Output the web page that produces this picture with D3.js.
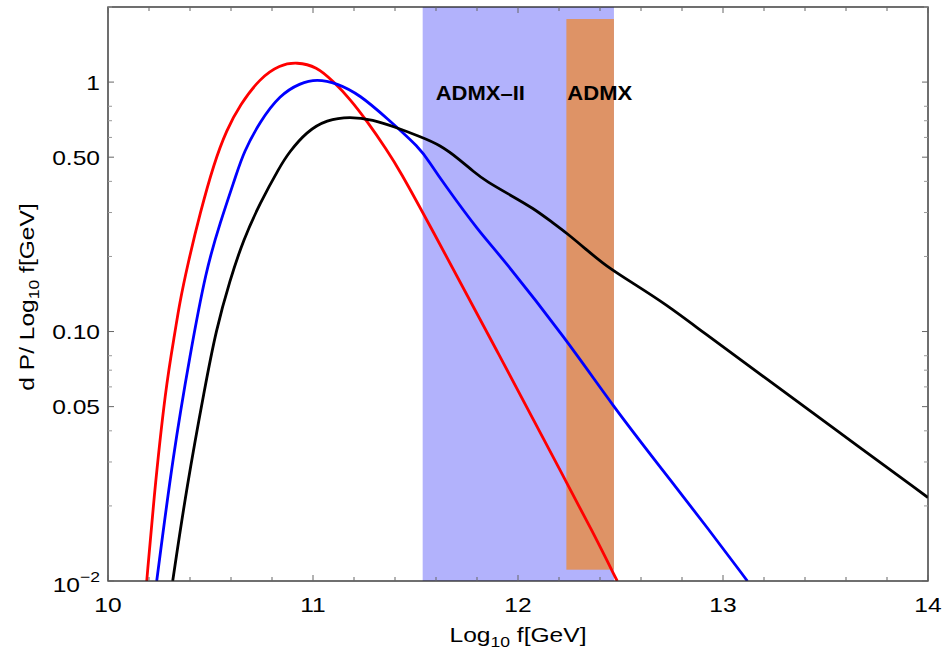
<!DOCTYPE html>
<html><head><meta charset="utf-8">
<script src="https://cdn.jsdelivr.net/npm/d3@7"></script>
<style>
body{margin:0;background:#fff;}
text{font-family:"Liberation Sans",Arial,sans-serif;fill:#000;}
</style></head>
<body><svg id="c" width="943" height="657"></svg>
<script>
// ---- data ----
const redX = [10.189,10.221,10.281,10.329,10.346,10.390,10.449,10.517,10.579,10.644,10.741,10.839,10.920,11.018,11.099,11.180,11.262,11.360,11.424,11.555,11.896,12.238,12.360,12.484];
const redY = [0.01,0.0205,0.0601,0.1015,0.126,0.188,0.298,0.473,0.644,0.811,1.037,1.173,1.203,1.155,1.006,0.857,0.700,0.535,0.441,0.281,0.0843,0.0247,0.0160,0.01];
const blueX = [10.2376,10.3185,10.400,10.478,10.546,10.628,10.660,10.741,10.839,10.937,11.018,11.116,11.229,11.360,11.522,11.571,11.636,11.815,11.912,12.238,12.465,12.693,12.933,13.119];
const blueY = [0.01,0.0325,0.0806,0.1767,0.272,0.431,0.519,0.695,0.889,0.991,1.028,0.991,0.889,0.717,0.544,0.473,0.394,0.248,0.203,0.0925,0.050,0.0287,0.0160,0.01];
const blackX = [10.3156,10.384,10.473,10.527,10.595,10.660,10.741,10.839,10.880,10.969,11.067,11.180,11.294,11.392,11.522,11.620,11.717,11.782,11.847,11.961,12.075,12.172,12.238,12.335,12.433,12.562,12.725,12.888,13.213,13.538,14.0];
const blackY = [0.01,0.0239,0.0601,0.1015,0.161,0.233,0.327,0.459,0.519,0.634,0.706,0.728,0.706,0.664,0.605,0.560,0.488,0.438,0.399,0.353,0.312,0.272,0.248,0.2125,0.182,0.156,0.128,0.1015,0.0646,0.0411,0.0216];
const bandNames = ["ADMX–II","ADMX"];
const bandX0 = [11.535,12.236];
const bandX1 = [12.468,12.468];
const bandY0 = [0.01,0.0111];
const bandY1 = [2,1.79];
const bandColors = ["#b2b2fc","#de9366"];
const xMajor = [10,11,12,13,14];
const yMajor = [0.01,0.05,0.1,0.5,1];
const yMajorLabels = [null,"0.05","0.10","0.50","1"];
const yMinor = [0.02,0.03,0.04,0.06,0.07,0.08,0.2,0.3,0.4,0.6,0.7,0.8,2];
const series = [
  {x:redX,y:redY,color:"#ff0000"},
  {x:blueX,y:blueY,color:"#0000ff"},
  {x:blackX,y:blackY,color:"#000000"}
];

// ---- layout ----
const L=108,R=928,T=7,B=581;
const x = d3.scaleLinear().domain([10,14]).range([L,R]);
const y = d3.scaleLog().domain([0.01,2]).range([B,T]);
const svg = d3.select("#c");
const STRETCH=1.17;

const defs = svg.append("defs");
defs.append("clipPath").attr("id","clip").append("rect")
  .attr("x",L).attr("y",T).attr("width",R-L).attr("height",B-T);

// bands
const bands = svg.append("g");
bandNames.forEach((n,i)=>{
  bands.append("rect")
    .attr("x",x(bandX0[i])).attr("width",x(bandX1[i])-x(bandX0[i]))
    .attr("y",y(bandY1[i])).attr("height",y(bandY0[i])-y(bandY1[i]))
    .attr("fill",bandColors[i]);
});

// curves
const g = svg.append("g").attr("clip-path","url(#clip)");
series.forEach(s=>{
  const pts = s.x.map((v,i)=>[v,s.y[i]]);
  const line = d3.line().x(d=>x(d[0])).y(d=>y(d[1])).curve(d3.curveBasis);
  g.append("path").attr("d",line(pts)).attr("fill","none")
    .attr("stroke",s.color).attr("stroke-width",2.8).attr("stroke-linejoin","round");
});

// frame
svg.append("rect").attr("x",L).attr("y",T).attr("width",R-L).attr("height",B-T)
  .attr("fill","none").attr("stroke","#222").attr("stroke-width",1.3);

// ticks
const tk = svg.append("g").attr("stroke","#666").attr("stroke-width",1);
const xMinor = d3.range(10,14.0001,0.2).filter(v=>Math.abs(v-Math.round(v))>1e-6);
xMajor.forEach(v=>{
  tk.append("line").attr("x1",x(v)).attr("x2",x(v)).attr("y1",B).attr("y2",B-6);
  tk.append("line").attr("x1",x(v)).attr("x2",x(v)).attr("y1",T).attr("y2",T+6);
});
xMinor.forEach(v=>{
  tk.append("line").attr("x1",x(v)).attr("x2",x(v)).attr("y1",B).attr("y2",B-4);
  tk.append("line").attr("x1",x(v)).attr("x2",x(v)).attr("y1",T).attr("y2",T+4);
});
yMajor.forEach(v=>{
  tk.append("line").attr("y1",y(v)).attr("y2",y(v)).attr("x1",L).attr("x2",L+6);
  tk.append("line").attr("y1",y(v)).attr("y2",y(v)).attr("x1",R).attr("x2",R-6);
});
yMinor.forEach(v=>{
  tk.append("line").attr("y1",y(v)).attr("y2",y(v)).attr("x1",L).attr("x2",L+4).attr("stroke","#999");
  tk.append("line").attr("y1",y(v)).attr("y2",y(v)).attr("x1",R).attr("x2",R-4).attr("stroke","#999");
});

// tick labels
const stretchTexts=[];
xMajor.forEach(v=>{
  stretchTexts.push(svg.append("text").attr("x",x(v)).attr("y",B+31)
    .attr("text-anchor","middle").attr("font-size",21).text(v));
});
yMajor.forEach((v,i)=>{
  if(yMajorLabels[i]){
    stretchTexts.push(svg.append("text").attr("x",L-8).attr("y",y(v)+7.5)
      .attr("text-anchor","end").attr("font-size",21).text(yMajorLabels[i]));
  } else {
    const t = svg.append("text").attr("x",L-8).attr("y",y(v)+11)
      .attr("text-anchor","end").attr("font-size",21);
    t.append("tspan").text("10");
    t.append("tspan").attr("font-size",15).attr("dy",-10).text("−2");
    stretchTexts.push(t);
  }
});

// axis labels
const xl = svg.append("text").attr("x",x(12)).attr("y",642).attr("text-anchor","middle").attr("font-size",21);
xl.append("tspan").text("Log");
xl.append("tspan").attr("font-size",15).attr("dy",5).text("10");
xl.append("tspan").attr("dy",-5).text(" f[GeV]");
stretchTexts.push(xl);

const yl = svg.append("text").attr("transform",`translate(34,${(T+B)/2+3}) rotate(-90)`)
  .attr("text-anchor","middle").attr("font-size",21);
yl.append("tspan").text("d P/ Log");
yl.append("tspan").attr("font-size",15).attr("dy",5).text("10");
yl.append("tspan").attr("dy",-5).text(" f[GeV]");
stretchTexts.push(yl);

// band labels
const labY = 100;
const bl = [];
bl.push(svg.append("text").attr("x",x(bandX0[0])+13).attr("y",labY).attr("font-size",20).attr("font-weight","bold").text(bandNames[0]));
bl.push(svg.append("text").attr("x",x(bandX0[1])+1).attr("y",labY).attr("font-size",20).attr("font-weight","bold").text(bandNames[1]));

function stretch(sel,f){
  const n = sel.node();
  const len = n.getComputedTextLength();
  sel.attr("textLength",len*f).attr("lengthAdjust","spacingAndGlyphs");
}
stretchTexts.forEach(s=>stretch(s,STRETCH));
bl.forEach(s=>stretch(s,1.1));
</script></body></html>
